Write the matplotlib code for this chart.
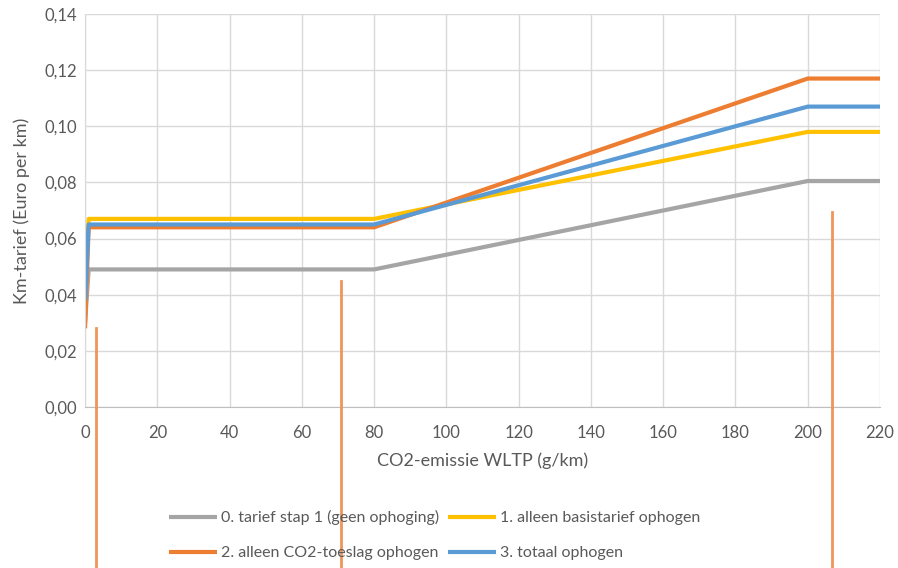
import matplotlib.pyplot as plt
from matplotlib.ticker import FuncFormatter

plt.rcParams['font.family'] = ['Lato', 'DejaVu Sans']

# CO2-uitstoot (g/km) en km-tarief per variant
co2 = [0, 1, 80, 200, 220]
tarief_stap1 = [0.030, 0.049, 0.049, 0.0805, 0.0805]
basis_ophogen = [0.045, 0.067, 0.067, 0.098, 0.098]
co2_toeslag_ophogen = [0.028, 0.064, 0.064, 0.117, 0.117]
totaal_ophogen = [0.038, 0.065, 0.065, 0.107, 0.107]

series = [
    ("0. tarief stap 1 (geen ophoging)", tarief_stap1, "#A5A5A5"),
    ("1. alleen basistarief ophogen", basis_ophogen, "#FFC000"),
    ("2. alleen CO2-toeslag ophogen", co2_toeslag_ophogen, "#ED7D31"),
    ("3. totaal ophogen", totaal_ophogen, "#5B9BD5"),
]

# markeringen (handmatig getekende streepjes)
marker_x = [3.0, 70.8, 206.6]
marker_top = [0.028, 0.045, 0.0695]

fig = plt.figure(figsize=(8.98, 5.68), dpi=100)
ax = fig.add_axes([0.0947, 0.2835, 0.8853, 0.6919])

lines = []
for label, vals, col in series:
    ln, = ax.plot(co2, vals, color=col, lw=3, label=label, solid_capstyle='butt')
    lines.append(ln)

ax.set_xlim(0, 220)
ax.set_ylim(0, 0.14)
ax.set_xticks(range(0, 221, 20))
ax.set_yticks([i * 0.02 for i in range(8)])
ax.yaxis.set_major_formatter(FuncFormatter(lambda v, p: f"{v:.2f}".replace('.', ',')))
ax.grid(True, color="#D9D9D9", lw=1)
ax.set_axisbelow(True)
for s in ['top', 'right']:
    ax.spines[s].set_visible(False)
ax.spines['left'].set_color("#D9D9D9")
ax.spines['bottom'].set_color("#BFBFBF")
ax.tick_params(length=0, colors="#595959", labelsize=12, pad=6)
ax.tick_params(axis='x', pad=13)

ax.set_xlabel("CO2-emissie WLTP (g/km)", fontsize=13, color="#595959", labelpad=8)
ax.set_ylabel("Km-tarief (Euro per km)", fontsize=13, color="#595959", labelpad=10)

# Excel zet de legenda rij voor rij neer
order = [0, 2, 1, 3]
fig.legend([lines[i] for i in order], [series[i][0] for i in order],
           loc='lower left', bbox_to_anchor=(0.172, -0.012), ncol=2, frameon=False,
           fontsize=11.5, labelcolor="#595959", handlelength=3.0, handletextpad=0.25,
           columnspacing=0.6, labelspacing=1.3)

for mx, mt in zip(marker_x, marker_top):
    ax.plot([mx, mx], [mt, -0.07], color="#F0955A", lw=2, clip_on=False, zorder=5)

fig.savefig("out.png", dpi=100)
